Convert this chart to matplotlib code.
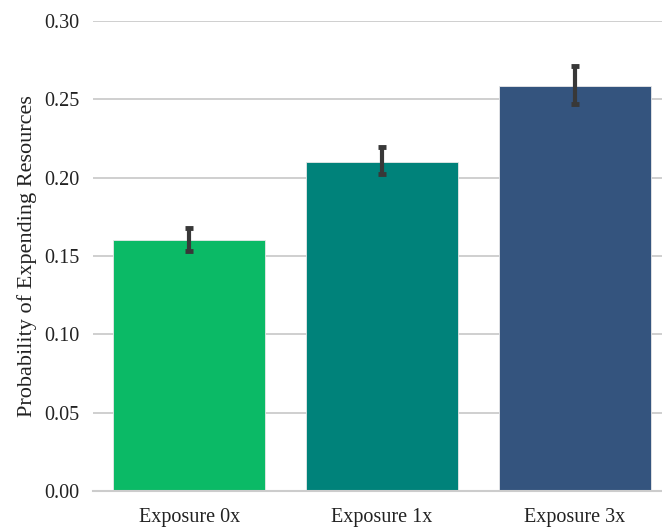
import numpy as np
import matplotlib.pyplot as plt

# data
groups = ['Exposure 0x', 'Exposure 1x', 'Exposure 3x']
probs = [0.160, 0.210, 0.2585]
err_low = [0.153, 0.2023, 0.247]
err_high = [0.168, 0.2196, 0.2713]
colors = ['#0bba66', '#00827a', '#34547e']
yticks = [0.00, 0.05, 0.10, 0.15, 0.20, 0.25, 0.30]

plt.rcParams['font.family'] = ['Liberation Serif', 'DejaVu Serif']

fig = plt.figure(figsize=(6.62, 5.28), dpi=100)
# right edge extends past figure like the (cropped) original
ax = fig.add_axes([93/662, 1-491/528, 578/662, 470/528])

x = np.arange(len(groups))
ax.bar(x, probs, width=0.79, color=colors, edgecolor='#e8e8e8', linewidth=0.6, zorder=2)
probs_a = np.array(probs)
yerr = np.vstack([probs_a - np.array(err_low), np.array(err_high) - probs_a])
ax.errorbar(x, probs, yerr=yerr, fmt='none', ecolor='#383838', elinewidth=3,
            capsize=3.2, capthick=3.5, zorder=3)

ax.set_xlim(-0.5, 2.5)
ax.set_ylim(0, 0.30)
ax.set_yticks(yticks)
ax.set_yticklabels(['%.2f' % t for t in yticks])
ax.set_xticks(x)
ax.set_xticklabels(groups)
ax.yaxis.grid(True, color='#cccccc', linewidth=1.3, zorder=0)
ax.set_axisbelow(True)
for s in ['top', 'right', 'left']:
    ax.spines[s].set_visible(False)
ax.spines['bottom'].set_color('#cccccc')
ax.spines['bottom'].set_linewidth(1.5)
ax.tick_params(axis='both', length=0, labelsize=14.5, colors='#222222')
ax.tick_params(axis='y', pad=10)
ax.tick_params(axis='x', pad=12)
ax.set_ylabel('Probability of Expending Resources', fontsize=16, color='#222222')
ax.yaxis.set_label_coords(-56/578, 0.5)

fig.savefig('out.png', dpi=100)
